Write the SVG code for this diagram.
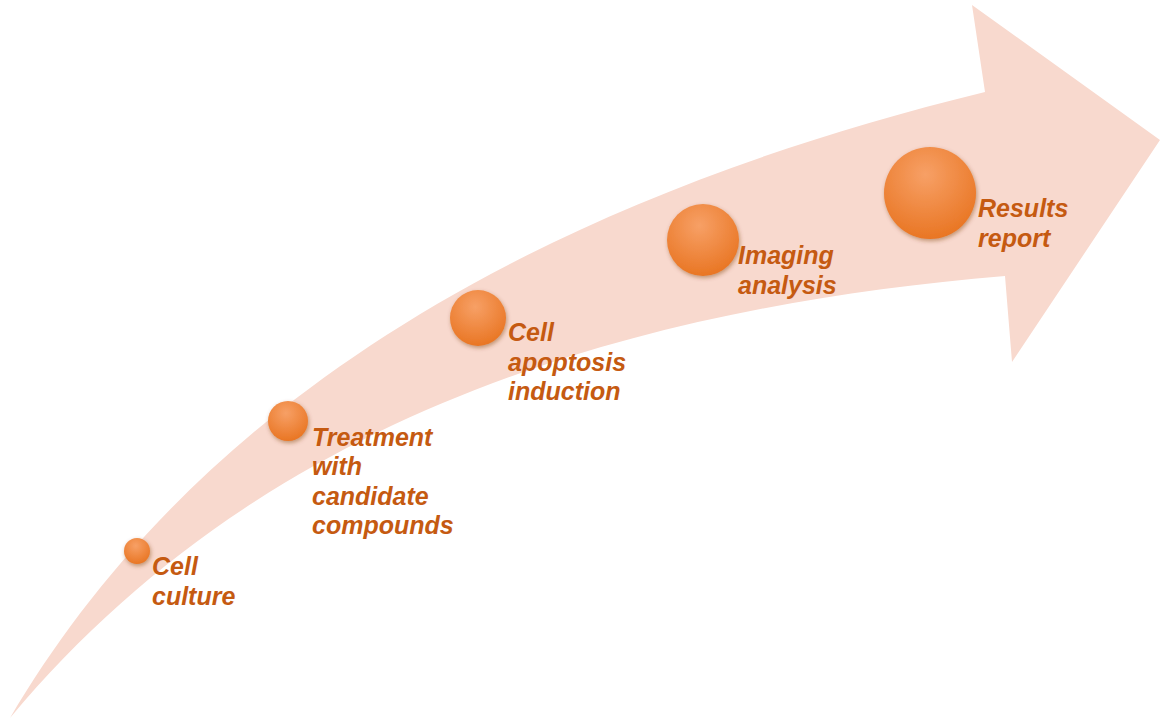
<svg xmlns="http://www.w3.org/2000/svg" width="1174" height="720" viewBox="0 0 1174 720">
<defs>
<radialGradient id="g" cx="0.45" cy="0.3" r="0.75"><stop offset="0" stop-color="#f7a066"/><stop offset="1" stop-color="#e8731f"/></radialGradient>
<filter id="s" x="-30%" y="-30%" width="160%" height="160%"><feDropShadow dx="1" dy="2" stdDeviation="2" flood-color="#7a3a10" flood-opacity="0.45"/></filter>
<style>
.c{fill:url(#g);filter:url(#s)}
.t{font-family:"Liberation Sans",Arial,sans-serif;font-weight:bold;font-style:italic;font-size:25px;fill:#c55a11}
</style>
</defs>
<g id="arrow">
<path d="M10,718 C150,480 420,230 985,92 L972,5 L1160,140 L1012,362 L1005,276 C600,310 250,430 10,718 Z" fill="#f8d9ce"/>
</g>
<g id="connectors"/>
<g id="n1"><circle class="c" cx="137" cy="551" r="13"/><text class="t" x="152" y="575">Cell</text><text class="t" x="152" y="605">culture</text></g>
<g id="n2"><circle class="c" cx="288" cy="421" r="20"/><text class="t" x="312" y="446">Treatment</text><text class="t" x="312" y="475">with</text><text class="t" x="312" y="505">candidate</text><text class="t" x="312" y="534">compounds</text></g>
<g id="n3"><circle class="c" cx="478" cy="318" r="28"/><text class="t" x="508" y="341">Cell</text><text class="t" x="508" y="371">apoptosis</text><text class="t" x="508" y="400">induction</text></g>
<g id="n4"><circle class="c" cx="703" cy="240" r="36"/><text class="t" x="738" y="264">Imaging</text><text class="t" x="738" y="294">analysis</text></g>
<g id="n5"><circle class="c" cx="930" cy="193" r="46"/><text class="t" x="978" y="217">Results</text><text class="t" x="978" y="247">report</text></g>
</svg>
